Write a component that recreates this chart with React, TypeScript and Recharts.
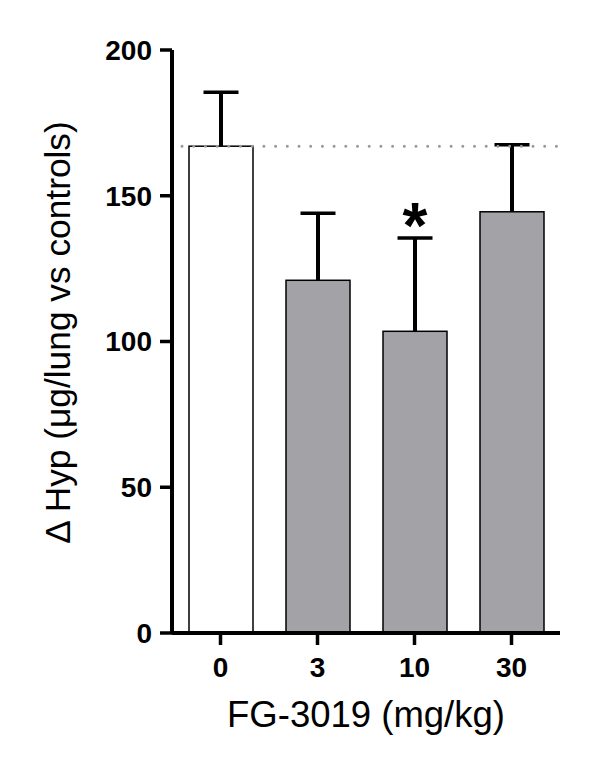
import React from 'react';
import { BarChart, Bar, Cell, XAxis, YAxis, ReferenceLine, Label } from 'recharts';

// FG-3019 dose groups
const doses = ['0', '3', '10', '30'];
// mean change in hydroxyproline per group
const means = [167, 121, 103.5, 144.5];
// upper error (SEM)
const errors = [18.5, 23, 32, 23];
// significance marker
const significant = [false, false, true, false];
const yTicks = [0, 50, 100, 150, 200];
const controlLevel = 167;

const barColors = ['#ffffff', '#a3a2a7', '#a3a2a7', '#a3a2a7'];

const data = doses.map((dose, i) => ({
  dose,
  value: means[i],
  err: errors[i],
  sig: significant[i]
}));

const FONT = '"Liberation Sans", Arial, Helvetica, sans-serif';

const BarWithError = (props: any) => {
  const { x, y, width, height, fill, payload } = props;
  const cx = x + width / 2;
  const perUnit = payload.value ? height / payload.value : 0;
  const top = y - payload.err * perUnit;
  return (
    <g>
      <rect x={x} y={y} width={width} height={height} fill={fill} stroke="#000" strokeWidth={1.5} />
      <line x1={cx} y1={y} x2={cx} y2={top} stroke="#000" strokeWidth={4} />
      <line x1={cx - 17.5} y1={top} x2={cx + 17.5} y2={top} stroke="#000" strokeWidth={3.5} />
      {payload.sig && (
        <text x={cx} y={top + 10} textAnchor="middle" fontSize={64} fontWeight="bold" fontFamily={FONT} fill="#000">
          *
        </text>
      )}
    </g>
  );
};

const App: React.FC = () => {
  return (
    <div style={{ position: 'absolute', left: 0, top: 0, background: '#fff' }}>
      <BarChart
        width={600}
        height={784}
        data={data}
        margin={{ top: 50, right: 40, bottom: 51, left: 0 }}
        style={{ fontFamily: FONT }}
      >
        <XAxis
          dataKey="dose"
          height={100}
          axisLine={{ stroke: '#000', strokeWidth: 4 }}
          tickLine={{ stroke: '#000', strokeWidth: 3.5 }}
          tickSize={12}
          tickMargin={12}
          tick={{ fill: '#000', fontSize: 28, fontWeight: 'bold', fontFamily: FONT }}
          label={
            <Label
              content={({ viewBox }: any) => (
                <text
                  x={viewBox.x + viewBox.width / 2}
                  y={viewBox.y + 94}
                  textAnchor="middle"
                  fontSize={36.5}
                  fontFamily={FONT}
                  fill="#000"
                >
                  FG-3019 (mg/kg)
                </text>
              )}
            />
          }
        />
        <YAxis
          width={172}
          domain={[0, 200]}
          ticks={yTicks}
          interval={0}
          axisLine={{ stroke: '#000', strokeWidth: 4 }}
          tickLine={{ stroke: '#000', strokeWidth: 3.5 }}
          tickSize={12}
          tickMargin={8}
          tick={{ fill: '#000', fontSize: 28, fontWeight: 'bold', fontFamily: FONT }}
          label={
            <Label
              content={({ viewBox }: any) => {
                const lx = viewBox.x + 70;
                const ly = viewBox.y + viewBox.height / 2 - 9;
                return (
                  <text
                    x={lx}
                    y={ly}
                    transform={`rotate(-90, ${lx}, ${ly})`}
                    textAnchor="middle"
                    fontSize={35.3}
                    fontFamily={FONT}
                    fill="#000"
                  >
                    Δ Hyp (μg/lung vs controls)
                  </text>
                );
              }}
            />
          }
        />
        <Bar dataKey="value" barSize={64} shape={BarWithError} isAnimationActive={false}>
          {data.map((d, i) => (
            <Cell key={d.dose} fill={barColors[i]} />
          ))}
        </Bar>
        <ReferenceLine
          y={controlLevel}
          stroke="#999"
          strokeWidth={3}
          strokeDasharray="0 11.7"
          strokeLinecap="round"
          strokeDashoffset={-10}
        />
      </BarChart>
    </div>
  );
};

export default App;
